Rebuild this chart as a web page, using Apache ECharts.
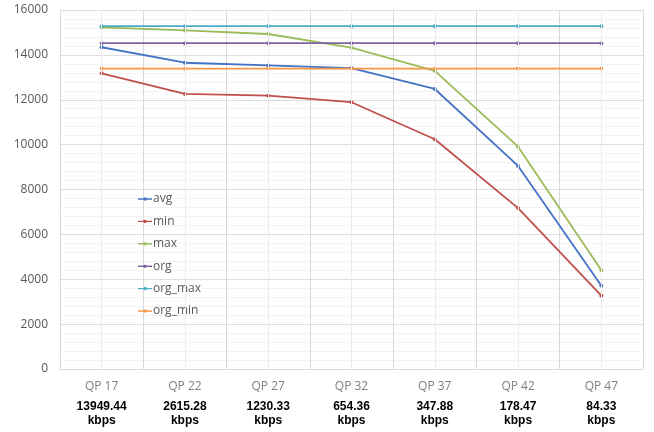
<!DOCTYPE html>
<html>
<head>
<meta charset="utf-8">
<script src="https://cdn.jsdelivr.net/npm/echarts@6/dist/echarts.min.js"></script>
<style>html,body{margin:0;padding:0;background:#fff}#c{width:654px;height:432px}</style>
</head>
<body>
<div id="c"></div>
<script>
const categories = ['QP 17','QP 22','QP 27','QP 32','QP 37','QP 42','QP 47'];
const bitrates = ['13949.44','2615.28','1230.33','654.36','347.88','178.47','84.33'];
const avg     = [14340, 13650, 13530, 13410, 12480, 9050, 3710];
const minV    = [13180, 12260, 12180, 11890, 10240, 7170, 3270];
const maxV    = [15230, 15090, 14930, 14320, 13290, 9910, 4400];
const org     = [14520, 14520, 14520, 14520, 14520, 14520, 14520];
const orgMax  = [15280, 15280, 15280, 15280, 15280, 15280, 15280];
const orgMin  = [13390, 13390, 13390, 13390, 13390, 13390, 13390];
const yTicks  = [0, 2000, 4000, 6000, 8000, 10000, 12000, 14000, 16000];

const seriesDefs = [
  ['avg', avg, '#4472C4'],
  ['min', minV, '#C0504D'],
  ['max', maxV, '#9BBB59'],
  ['org', org, '#8064A2'],
  ['org_max', orgMax, '#4BACC6'],
  ['org_min', orgMin, '#F79646']
];

const labelMap = {};
categories.forEach((c, i) => labelMap[c] = bitrates[i]);

const chart = echarts.init(document.getElementById('c'), null, {renderer: 'canvas'});
const series = seriesDefs.map(([name, data, color]) => ({
  name, type: 'line', data,
  symbol: 'circle', symbolSize: 4,
  lineStyle: {color, width: 1.8},
  itemStyle: {color},
  z: 3
}));
series.unshift({
  name: '_grid', type: 'line', data: [], silent: true, z: 0,
  markLine: {
    silent: true, symbol: ['none','none'], label: {show: false},
    lineStyle: {color: '#ececec', width: 1, type: 'solid'},
    data: categories.map(c => ({xAxis: c}))
  }
});

const legendIcon = 'path://M0,1.3L14,1.3L14,2.7L0,2.7Z M5.2,2A1.8,1.8 0 1,1 8.8,2A1.8,1.8 0 1,1 5.2,2Z M7,0L7.01,0L7.01,4L7,4Z';

chart.setOption({
  animation: false,
  backgroundColor: '#fff',
  grid: {left: 60, right: 11, top: 10, bottom: 63},
  legend: {
    orient: 'vertical', left: 133, top: 187,
    itemGap: 8.4, itemWidth: 14, itemHeight: 4,
    data: seriesDefs.map(s => ({name: s[0], icon: legendIcon})),
    textStyle: {color: '#595959', fontSize: 12, fontFamily: 'Open Sans', padding: [0,0,0,-4], lineHeight: 14}
  },
  xAxis: {
    type: 'category', data: categories, boundaryGap: true,
    axisLine: {show: true, lineStyle: {color: '#d9d9d9'}},
    axisTick: {show: false},
    splitLine: {show: true, interval: 0, lineStyle: {color: '#d9d9d9'}},
    axisLabel: {
      interval: 0, margin: 5,
      formatter: v => '{q|' + v + '}\n{b|' + labelMap[v] + '}\n{b|kbps}',
      rich: {
        q: {color: '#7f7f7f', fontSize: 12, fontFamily: 'Open Sans', lineHeight: 26},
        b: {color: '#000', fontSize: 12, fontWeight: 'bold', fontFamily: 'Liberation Sans', lineHeight: 14}
      }
    }
  },
  yAxis: {
    type: 'value', min: 0, max: 16000, interval: 2000,
    axisLine: {show: false}, axisTick: {show: false},
    axisLabel: {color: '#595959', fontSize: 12, fontFamily: 'Open Sans', margin: 12,
      formatter: v => yTicks.includes(v) ? String(v) : ''},
    splitLine: {show: true, lineStyle: {color: '#dedede'}},
    minorTick: {show: false, splitNumber: 5},
    minorSplitLine: {show: true, lineStyle: {color: '#f3f3f3'}}
  },
  series
});
</script>
</body>
</html>
